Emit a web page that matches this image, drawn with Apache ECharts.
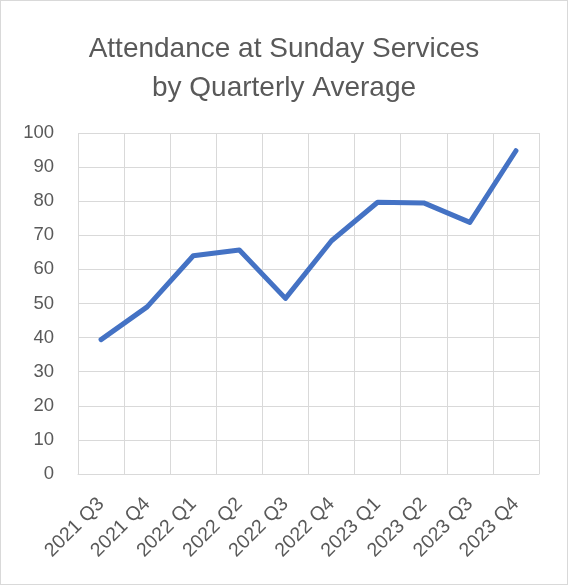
<!DOCTYPE html>
<html>
<head>
<meta charset="utf-8">
<script src="https://cdn.jsdelivr.net/npm/echarts@6/dist/echarts.min.js"></script>
<style>
  html, body { margin: 0; padding: 0; background: #fff; }
  #chart { width: 566px; height: 583px; border: 1px solid #d9d9d9; }
</style>
</head>
<body>
<div id="chart"></div>
<script>
// quarters on the x axis
const quarters = ['2021 Q3', '2021 Q4', '2022 Q1', '2022 Q2', '2022 Q3',
  '2022 Q4', '2023 Q1', '2023 Q2', '2023 Q3', '2023 Q4'];
// average attendance per quarter
const attendance = [39.4, 49.0, 64.0, 65.7, 51.5, 68.4, 79.7, 79.5, 73.8, 94.8];

const textColor = '#595959';
const gridColor = '#d9d9d9';
const font = 'Liberation Sans, Noto Sans, sans-serif';

const chart = echarts.init(document.getElementById('chart'));

chart.setOption({
  animation: false,
  title: {
    text: 'Attendance at Sunday Services\nby Quarterly Average',
    left: 'center',
    top: 24,
    textStyle: {
      color: textColor,
      fontSize: 28,
      lineHeight: 39,
      fontWeight: 'normal',
      fontFamily: font
    }
  },
  grid: {
    left: 77,
    right: 28,
    top: 132,
    bottom: 110,
    containLabel: false
  },
  xAxis: {
    type: 'category',
    data: quarters,
    boundaryGap: true,
    axisLine: { show: true, lineStyle: { color: gridColor, width: 1 } },
    axisTick: { show: false },
    splitLine: { show: true, lineStyle: { color: gridColor, width: 1 } },
    axisLabel: {
      rotate: 45,
      interval: 0,
      color: textColor,
      fontSize: 19.5,
      fontFamily: font,
      margin: 27
    }
  },
  yAxis: {
    type: 'value',
    min: 0,
    max: 100,
    interval: 10,
    axisLine: { show: false },
    axisTick: { show: false },
    splitLine: { lineStyle: { color: gridColor, width: 1 } },
    axisLabel: {
      color: textColor,
      fontSize: 18.5,
      fontFamily: font,
      margin: 24
    }
  },
  series: [{
    type: 'line',
    data: attendance,
    showSymbol: false,
    symbol: 'none',
    lineStyle: { color: '#4472C4', width: 5, cap: 'round', join: 'round' }
  }]
});
</script>
</body>
</html>
